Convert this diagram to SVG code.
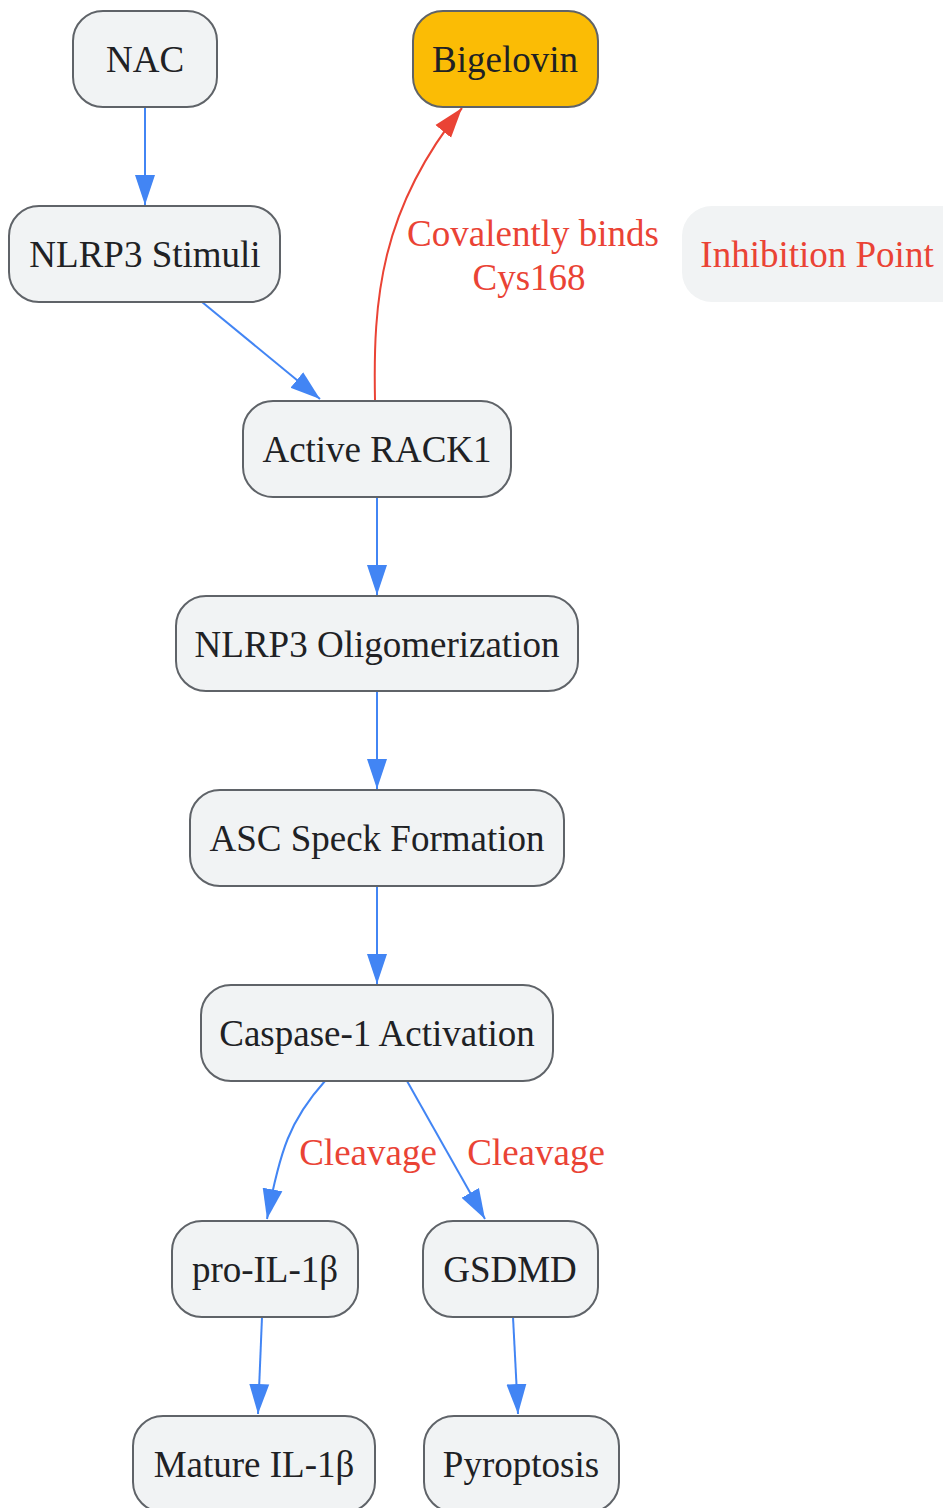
<svg xmlns="http://www.w3.org/2000/svg" width="943" height="1508" viewBox="0 0 943 1508">
<style>
.n rect{fill:#f1f3f4;stroke:#5f6368;stroke-width:2}
.n text{font-family:"Liberation Serif",serif;font-size:37px;fill:#202124;text-anchor:middle}
.lbl{font-family:"Liberation Serif",serif;font-size:37px;fill:#ea4335;text-anchor:middle}
.eb{fill:none;stroke:#4285f4;stroke-width:2}
.er{fill:none;stroke:#ea4335;stroke-width:2}
</style>
<defs>
<marker id="ab" markerUnits="userSpaceOnUse" markerWidth="32" markerHeight="22" refX="30" refY="11" orient="auto"><path d="M0,1 L30,11 L0,21 z" fill="#4285f4"/></marker>
<marker id="ar" markerUnits="userSpaceOnUse" markerWidth="32" markerHeight="22" refX="30" refY="11" orient="auto"><path d="M0,1 L30,11 L0,21 z" fill="#ea4335"/></marker>
</defs>
<rect width="943" height="1508" fill="#ffffff"/>
<g id="edges">
<path class="eb" d="M145,107 L145,205" marker-end="url(#ab)"/>
<path class="eb" d="M202,302 L320,399" marker-end="url(#ab)"/>
<path class="er" d="M375,400 C373,300 380,210 462,108" marker-end="url(#ar)"/>
<path class="eb" d="M377,497 L377,595" marker-end="url(#ab)"/>
<path class="eb" d="M377,691 L377,789" marker-end="url(#ab)"/>
<path class="eb" d="M377,886 L377,984" marker-end="url(#ab)"/>
<path class="eb" d="M325,1081 C290,1120 280,1150 267,1219" marker-end="url(#ab)"/>
<path class="eb" d="M407,1081 L485,1219" marker-end="url(#ab)"/>
<path class="eb" d="M262,1317 L258,1414" marker-end="url(#ab)"/>
<path class="eb" d="M513,1317 L518,1414" marker-end="url(#ab)"/>
<text class="lbl" x="533" y="246">Covalently binds</text>
<text class="lbl" x="529" y="290">Cys168</text>
<text class="lbl" x="368" y="1165">Cleavage</text>
<text class="lbl" x="536" y="1165">Cleavage</text>
</g>
<g id="nac" class="n"><rect x="73" y="11" width="144" height="96" rx="30"/><text x="145" y="72">NAC</text></g>
<g id="bigelovin" class="n"><rect x="413" y="11" width="185" height="96" rx="30" style="fill:#fbbc05"/><text x="505" y="72">Bigelovin</text></g>
<g id="stimuli" class="n"><rect x="9" y="206" width="271" height="96" rx="30"/><text x="145" y="267">NLRP3 Stimuli</text></g>
<g id="inhibition" class="n"><rect x="682" y="206" width="290" height="96" rx="30" style="stroke:none"/><text x="817" y="267" style="fill:#ea4335">Inhibition Point</text></g>
<g id="rack1" class="n"><rect x="243" y="401" width="268" height="96" rx="30"/><text x="377" y="462">Active RACK1</text></g>
<g id="oligo" class="n"><rect x="176" y="596" width="402" height="95" rx="30"/><text x="377" y="657">NLRP3 Oligomerization</text></g>
<g id="asc" class="n"><rect x="190" y="790" width="374" height="96" rx="30"/><text x="377" y="851">ASC Speck Formation</text></g>
<g id="casp1" class="n"><rect x="201" y="985" width="352" height="96" rx="30"/><text x="377" y="1046">Caspase-1 Activation</text></g>
<g id="proil" class="n"><rect x="172" y="1221" width="186" height="96" rx="30"/><text x="265" y="1282">pro-IL-1β</text></g>
<g id="gsdmd" class="n"><rect x="423" y="1221" width="175" height="96" rx="30"/><text x="510" y="1282">GSDMD</text></g>
<g id="mature" class="n"><rect x="133" y="1416" width="242" height="96" rx="30"/><text x="254" y="1477">Mature IL-1β</text></g>
<g id="pyro" class="n"><rect x="424" y="1416" width="195" height="96" rx="30"/><text x="521" y="1477">Pyroptosis</text></g>
</svg>
